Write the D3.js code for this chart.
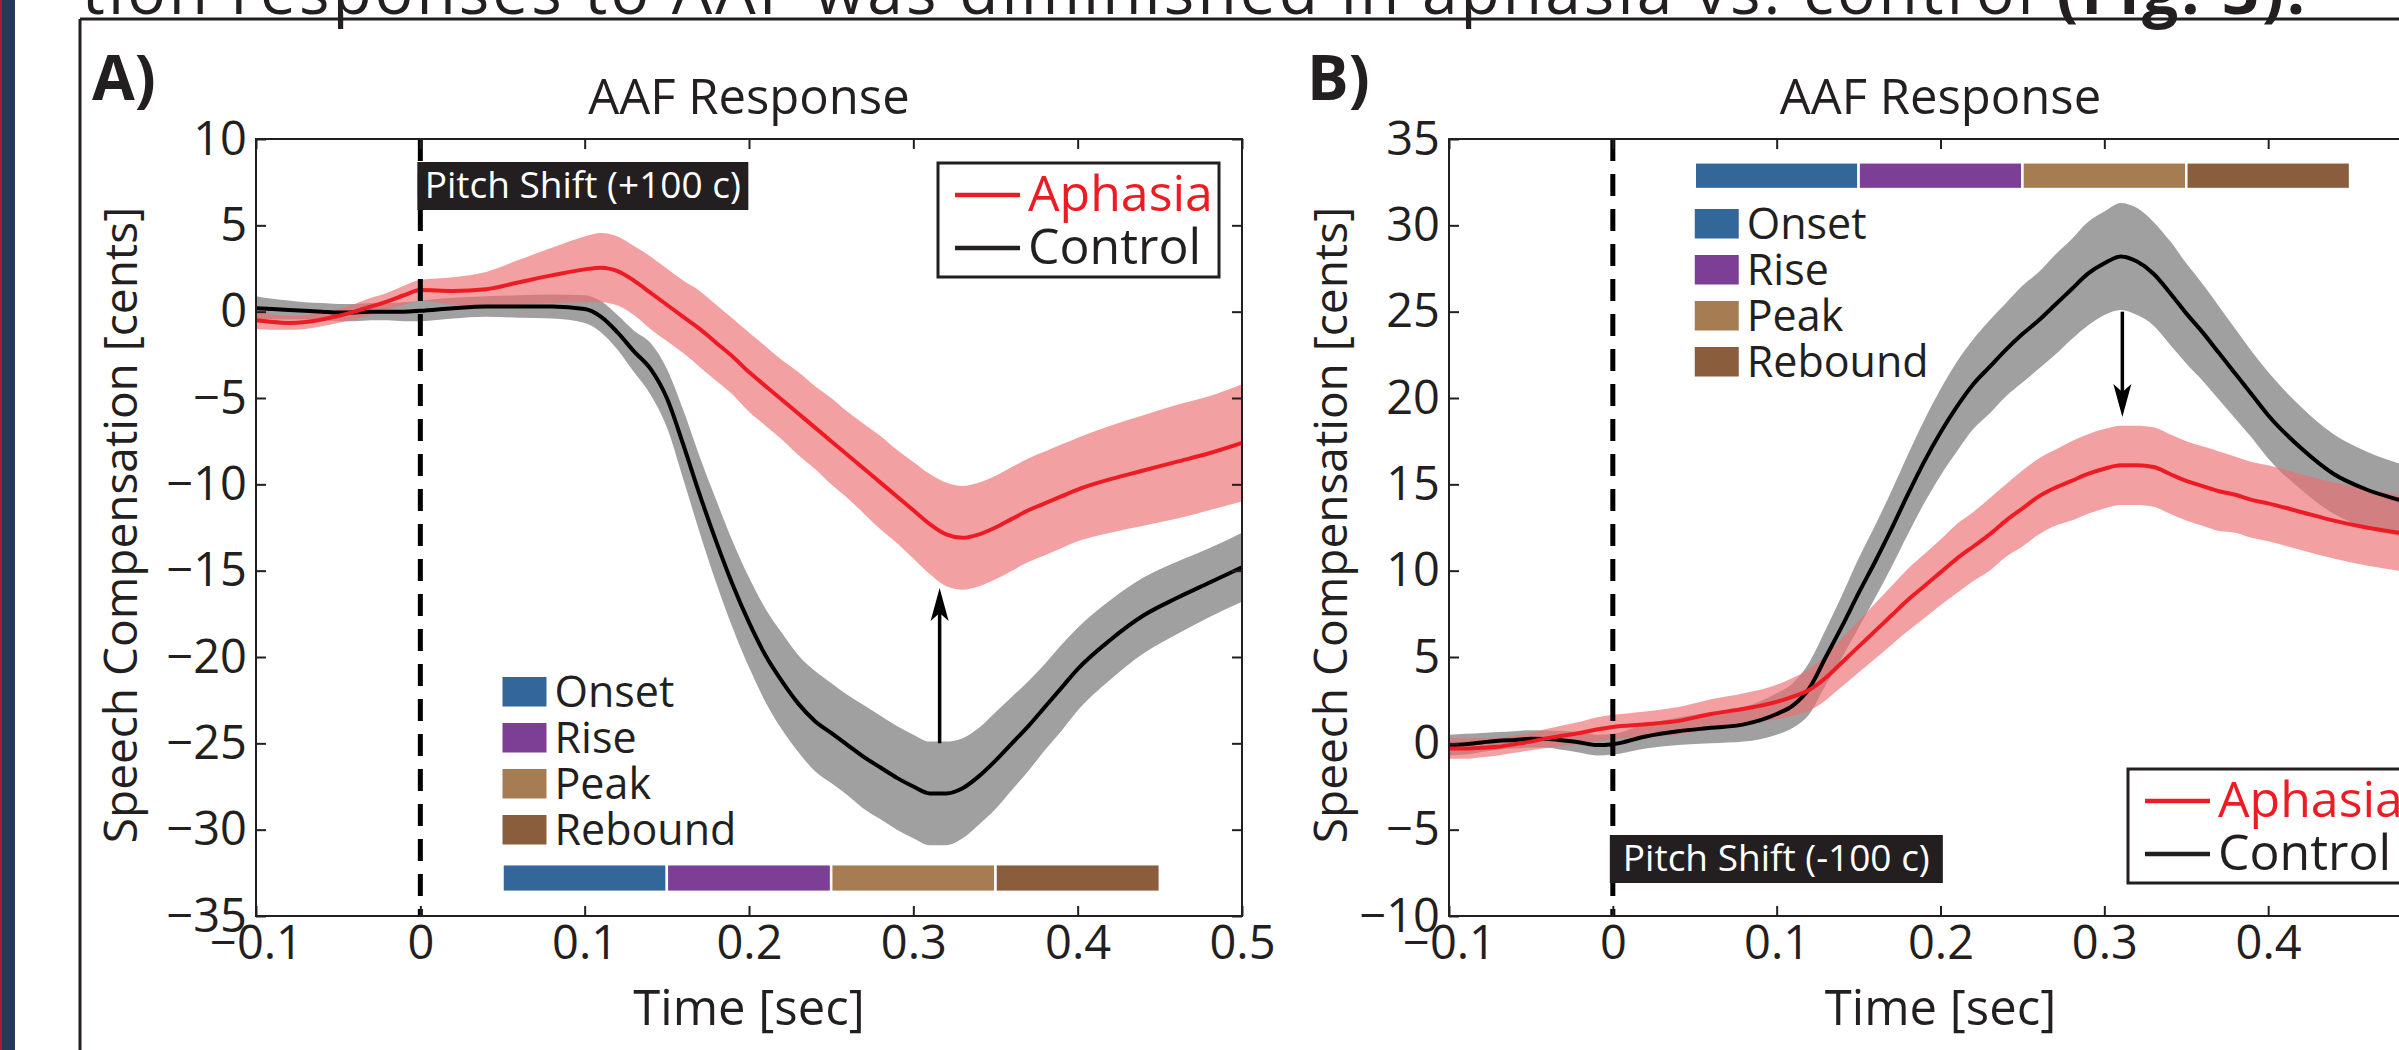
<!DOCTYPE html>
<html>
<head>
<meta charset="utf-8">
<script src="https://cdn.jsdelivr.net/npm/d3@7"></script>
<style>
  body { margin: 0; background: #fff; }
  svg { display: block; }
  text { font-family: "Open Sans", sans-serif; fill: #231f20; }
  .axis text { font-family: "Open Sans", sans-serif; font-size: 47px; fill: #231f20; }
  .axis path { display: none; }
  .axis line { stroke: #231f20; stroke-width: 2px; }
</style>
</head>
<body>
<svg id="fig" width="2399" height="1050"></svg>
<script>
(function() {

// time base (sec) shared by every series
var time = [-0.10,-0.09,-0.08,-0.07,-0.06,-0.05,-0.04,-0.03,-0.02,-0.01,0.00,0.02,0.04,0.06,0.08,0.10,
  0.11,0.12,0.13,0.14,0.15,0.16,0.17,0.18,0.19,0.20,0.21,0.22,0.23,0.24,0.25,0.26,0.27,0.28,0.29,0.30,
  0.31,0.32,0.33,0.34,0.35,0.36,0.37,0.38,0.39,0.40,0.42,0.44,0.46,0.48,0.50];

// panel A : +100 c shift
var aphasiaA = [-0.5,-0.6,-0.65,-0.6,-0.45,-0.25,0.0,0.3,0.6,0.95,1.25,1.2,1.3,1.7,2.1,2.45,
  2.55,2.35,1.8,1.1,0.4,-0.3,-1.0,-1.8,-2.6,-3.5,-4.3,-5.1,-5.9,-6.7,-7.5,-8.3,-9.1,-9.9,-10.7,-11.5,
  -12.3,-12.9,-13.1,-12.9,-12.5,-12.0,-11.5,-11.1,-10.7,-10.3,-9.7,-9.2,-8.7,-8.2,-7.6];
var aphasiaSemA = [0.5,0.45,0.4,0.4,0.4,0.4,0.45,0.5,0.5,0.55,0.6,0.8,1.0,1.3,1.6,1.9,
  2.0,2.0,2.0,2.1,2.1,2.1,2.2,2.2,2.2,2.3,2.3,2.3,2.4,2.4,2.5,2.5,2.6,2.7,2.7,2.8,
  2.9,3.0,3.0,3.0,3.0,3.0,3.0,3.0,3.0,3.0,3.1,3.2,3.3,3.3,3.4];
var controlA = [0.2,0.15,0.1,0.05,0.0,-0.05,-0.05,0.0,0.0,0.0,0.05,0.2,0.3,0.3,0.3,0.15,
  -0.3,-1.2,-2.3,-3.3,-5.0,-7.7,-10.6,-13.3,-15.8,-18.0,-19.9,-21.4,-22.7,-23.7,-24.4,-25.1,-25.8,-26.4,-27.0,-27.5,
  -27.9,-27.9,-27.6,-26.9,-26.0,-25.0,-24.0,-22.9,-21.8,-20.7,-19.0,-17.6,-16.6,-15.7,-14.8];
var controlSemA = [0.7,0.6,0.55,0.5,0.5,0.5,0.5,0.5,0.5,0.55,0.6,0.6,0.6,0.65,0.7,0.8,
  0.9,1.0,1.2,1.5,1.7,2.0,2.2,2.4,2.5,2.6,2.7,2.8,2.8,2.9,2.9,2.9,3.0,3.0,3.0,3.0,
  3.0,3.0,2.9,2.8,2.8,2.7,2.6,2.5,2.5,2.4,2.3,2.2,2.1,2.0,2.0];

// panel B : -100 c shift
var aphasiaB = [-0.3,-0.3,-0.25,-0.2,-0.05,0.1,0.3,0.45,0.6,0.8,0.95,1.1,1.3,1.7,2.0,2.4,
  2.7,3.1,3.8,4.7,5.6,6.5,7.4,8.3,9.1,9.9,10.7,11.4,12.1,12.9,13.6,14.3,14.8,15.2,15.6,15.9,
  16.1,16.1,16.0,15.6,15.2,14.9,14.6,14.4,14.1,13.9,13.4,12.9,12.5,12.2,12.0];
var aphasiaSemB = [0.6,0.6,0.55,0.5,0.5,0.5,0.55,0.6,0.65,0.7,0.7,0.75,0.8,0.85,0.9,1.0,
  1.1,1.2,1.3,1.4,1.5,1.6,1.7,1.8,1.85,1.9,2.0,2.0,2.1,2.1,2.2,2.2,2.2,2.3,2.3,2.3,
  2.3,2.3,2.3,2.3,2.3,2.3,2.3,2.2,2.2,2.2,2.2,2.2,2.2,2.2,2.2];
var controlB = [-0.1,-0.05,0.05,0.15,0.2,0.26,0.25,0.16,0.05,-0.1,-0.05,0.4,0.7,0.9,1.1,1.7,
  2.2,3.2,5.0,6.8,8.7,10.5,12.4,14.4,16.3,18.0,19.5,20.8,21.8,22.8,23.7,24.5,25.4,26.3,27.2,27.8,
  28.2,27.9,27.2,26.1,24.9,23.8,22.6,21.4,20.2,19.0,17.1,15.6,14.7,14.1,13.6];
var controlSemB = [0.6,0.6,0.55,0.5,0.5,0.5,0.5,0.55,0.6,0.6,0.6,0.7,0.8,0.9,1.0,1.2,
  1.3,1.5,1.6,1.8,2.0,2.1,2.2,2.3,2.4,2.5,2.6,2.6,2.7,2.7,2.8,2.8,2.9,2.9,3.0,3.0,
  3.1,3.1,3.0,3.0,2.9,2.8,2.7,2.6,2.5,2.5,2.4,2.3,2.2,2.1,2.0];

var phaseNames = ["Onset", "Rise", "Peak", "Rebound"];
var phaseStart = [0.05, 0.15, 0.25, 0.35];
var phaseEnd = [0.15, 0.25, 0.35, 0.45];
var phaseColors = ["#336699", "#7d3f96", "#a67c52", "#8a5e3c"];

var xTicks = [-0.1, 0, 0.1, 0.2, 0.3, 0.4, 0.5];
var yTicksA = [10, 5, 0, -5, -10, -15, -20, -25, -30, -35];
var yTicksB = [35, 30, 25, 20, 15, 10, 5, 0, -5, -10];

var seriesNames = ["Aphasia", "Control"];

var svg = d3.select("#fig");

// poster background bits
svg.append("rect").attr("x", 0).attr("y", 0).attr("width", 15).attr("height", 1050).attr("fill", "#27375b");
svg.append("rect").attr("x", 0).attr("y", 0).attr("width", 2).attr("height", 1050).attr("fill", "#9b2335");
svg.append("line").attr("x1", 80).attr("y1", 19).attr("x2", 2399).attr("y2", 19)
    .attr("stroke", "#231f20").attr("stroke-width", 3);
svg.append("line").attr("x1", 80).attr("y1", 19).attr("x2", 80).attr("y2", 1050)
    .attr("stroke", "#231f20").attr("stroke-width", 3);

var head = svg.append("text")
    .attr("x", 82).attr("y", 14)
    .attr("font-size", 64)
    .attr("textLength", 2223)
    .text("tion responses to AAF was diminished in aphasia vs. control ");
head.append("tspan").attr("font-weight", "bold").text("(Fig. 3).");

function drawPanel(p) {
  var x = d3.scaleLinear().domain([-0.1, 0.5]).range([p.left, p.right]),
      y = d3.scaleLinear().domain(p.yDomain).range([916, 139]);

  var g = svg.append("g");

  g.append("clipPath").attr("id", "clip" + p.id)
    .append("rect").attr("x", x(-0.1)).attr("y", y(p.yDomain[1]))
    .attr("width", x(0.5) - x(-0.1)).attr("height", y(p.yDomain[0]) - y(p.yDomain[1]));

  var plot = g.append("g").attr("clip-path", "url(#clip" + p.id + ")");

  var control = time.map(function(t, i) { return {t: t, m: p.control[i], s: p.controlSem[i]}; });
  var aphasia = time.map(function(t, i) { return {t: t, m: p.aphasia[i], s: p.aphasiaSem[i]}; });

  var band = d3.area()
      .curve(d3.curveMonotoneX)
      .x(function(d) { return x(d.t); })
      .y0(function(d) { return y(d.m - d.s); })
      .y1(function(d) { return y(d.m + d.s); });

  var line = d3.line()
      .curve(d3.curveMonotoneX)
      .x(function(d) { return x(d.t); })
      .y(function(d) { return y(d.m); });

  plot.append("path").datum(control).attr("d", band)
      .attr("fill", "#000").attr("fill-opacity", 0.373);
  plot.append("path").datum(aphasia).attr("d", band)
      .attr("fill", "rgb(236,109,113)").attr("fill-opacity", 0.65);
  plot.append("path").datum(control).attr("d", line)
      .attr("fill", "none").attr("stroke", "#000").attr("stroke-width", 4);
  plot.append("path").datum(aphasia).attr("d", line)
      .attr("fill", "none").attr("stroke", "#ed1c24").attr("stroke-width", 4);

  // pitch shift onset
  g.append("line")
      .attr("x1", x(0)).attr("x2", x(0))
      .attr("y1", y(p.yDomain[1])).attr("y2", y(p.yDomain[0]))
      .attr("stroke", "#000").attr("stroke-width", 5)
      .attr("stroke-dasharray", "22,13");

  // arrow between the two peaks
  var ax = x(p.arrow[0]), ay0 = y(p.arrow[1]), ay1 = y(p.arrow[2]);
  var dir = ay0 > ay1 ? 1 : -1;
  g.append("line")
      .attr("x1", ax).attr("x2", ax)
      .attr("y1", ay0).attr("y2", ay1 + dir * 22)
      .attr("stroke", "#000").attr("stroke-width", 3.5);
  g.append("path")
      .attr("d", "M" + ax + "," + ay1 +
                 "L" + (ax - 9) + "," + (ay1 + dir * 33) +
                 "L" + ax + "," + (ay1 + dir * 25) +
                 "L" + (ax + 9) + "," + (ay1 + dir * 33) + "Z")
      .attr("fill", "#000");

  // phase bars
  g.selectAll(".phase")
    .data(phaseNames)
    .enter().append("rect")
      .attr("class", "phase")
      .attr("x", function(d, i) { return x(phaseStart[i]); })
      .attr("width", function(d, i) { return x(phaseEnd[i]) - x(phaseStart[i]); })
      .attr("y", y(p.barTop))
      .attr("height", y(p.barBottom) - y(p.barTop))
      .attr("fill", function(d, i) { return phaseColors[i]; })
      .attr("stroke", "#fff").attr("stroke-width", 2.5);

  // phase legend
  var pl = g.selectAll(".plegend")
    .data(phaseNames)
    .enter().append("g")
      .attr("class", "plegend")
      .attr("transform", function(d, i) { return "translate(" + x(0.05) + "," + (p.phaseLegendTop + i * 46) + ")"; });
  pl.append("rect").attr("width", 44).attr("height", 29.5)
      .attr("fill", function(d, i) { return phaseColors[i]; });
  pl.append("text").attr("x", 52).attr("y", 30)
      .attr("font-size", 43)
      .text(function(d) { return d; });

  // pitch shift label
  var pb = g.append("g").attr("transform", "translate(" + (x(0) - 3) + "," + p.pitchTop + ")");
  pb.append("rect").attr("width", p.pitchWidth).attr("height", 48).attr("fill", "#231f20");
  pb.append("text").attr("x", p.pitchWidth / 2).attr("y", 36)
      .attr("text-anchor", "middle").attr("font-size", 37)
      .style("fill", "#fff")
      .text(p.pitchLabel);

  // series legend
  var lg = g.append("g").attr("transform", "translate(" + p.legend[0] + "," + p.legend[1] + ")");
  lg.append("rect").attr("width", p.legendWidth).attr("height", 114)
      .attr("fill", "#fff").attr("stroke", "#231f20").attr("stroke-width", 3);
  lg.selectAll(".sl")
    .data(seriesNames)
    .enter().append("line")
      .attr("x1", 17).attr("x2", 82)
      .attr("y1", function(d, i) { return 32 + i * 53; })
      .attr("y2", function(d, i) { return 32 + i * 53; })
      .attr("stroke", function(d, i) { return i ? "#231f20" : "#ed1c24"; })
      .attr("stroke-width", 4.5);
  lg.selectAll(".st")
    .data(seriesNames)
    .enter().append("text")
      .attr("x", 90)
      .attr("y", function(d, i) { return 48 + i * 53; })
      .attr("font-size", 50)
      .style("fill", function(d, i) { return i ? "#231f20" : "#ed1c24"; })
      .text(function(d) { return d; });

  // axes box and ticks
  g.append("rect")
      .attr("x", x(-0.1)).attr("y", y(p.yDomain[1]))
      .attr("width", x(0.5) - x(-0.1)).attr("height", y(p.yDomain[0]) - y(p.yDomain[1]))
      .attr("fill", "none").attr("stroke", "#231f20").attr("stroke-width", 2);

  g.append("g")
      .attr("class", "axis")
      .attr("transform", "translate(0,916)")
      .call(d3.axisBottom(x).tickValues(xTicks).tickFormat(d3.format("")).tickSize(-10).tickSizeOuter(0).tickPadding(10));
  g.append("g")
      .attr("class", "axis")
      .attr("transform", "translate(0,139)")
      .call(d3.axisTop(x).tickValues(xTicks).tickSize(-10).tickSizeOuter(0))
    .selectAll("text").remove();
  g.append("g")
      .attr("class", "axis")
      .attr("transform", "translate(" + x(-0.1) + ",0)")
      .call(d3.axisLeft(y).tickValues(p.yTicks).tickFormat(d3.format("d")).tickSize(-10).tickSizeOuter(0).tickPadding(9));
  g.append("g")
      .attr("class", "axis")
      .attr("transform", "translate(" + x(0.5) + ",0)")
      .call(d3.axisRight(y).tickValues(p.yTicks).tickSize(-10).tickSizeOuter(0))
    .selectAll("text").remove();

  // titles
  var cx = (x(-0.1) + x(0.5)) / 2;
  g.append("text").attr("x", cx).attr("y", 114)
      .attr("text-anchor", "middle").attr("font-size", 49)
      .text("AAF Response");
  g.append("text").attr("x", cx).attr("y", 1025)
      .attr("text-anchor", "middle").attr("font-size", 49)
      .text("Time [sec]");
  g.append("text")
      .attr("transform", "translate(" + p.yLabelX + ",525) rotate(-90)")
      .attr("text-anchor", "middle").attr("font-size", 46)
      .text("Speech Compensation [cents]");
  g.append("text").attr("x", p.tagX).attr("y", 100)
      .attr("font-size", 62).attr("font-weight", "bold")
      .text(p.tag);
}

drawPanel({
  id: "A", tag: "A)", tagX: 92,
  left: 256, right: 1242,
  yDomain: [-35, 10], yTicks: yTicksA,
  aphasia: aphasiaA, aphasiaSem: aphasiaSemA,
  control: controlA, controlSem: controlSemA,
  arrow: [0.316, -25.0, -16.0],
  barTop: -32.0, barBottom: -33.6,
  phaseLegendTop: 677,
  pitchTop: 162, pitchWidth: 331, pitchLabel: "Pitch Shift (+100 c)",
  legend: [938, 163], legendWidth: 281,
  yLabelX: 137
});

drawPanel({
  id: "B", tag: "B)", tagX: 1307,
  left: 1449, right: 2432,
  yDomain: [-10, 35], yTicks: yTicksB,
  aphasia: aphasiaB, aphasiaSem: aphasiaSemB,
  control: controlB, controlSem: controlSemB,
  arrow: [0.311, 25.0, 18.9],
  barTop: 33.65, barBottom: 32.1,
  phaseLegendTop: 209,
  pitchTop: 835, pitchWidth: 333, pitchLabel: "Pitch Shift (-100 c)",
  legend: [2128, 769], legendWidth: 300,
  yLabelX: 1347
});

})();
</script>
</body>
</html>
